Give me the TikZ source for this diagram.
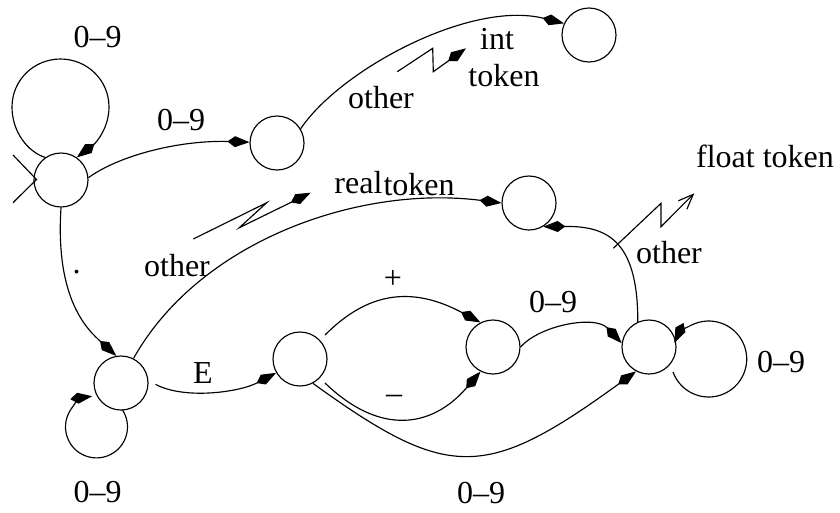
\documentclass[tikz,border=0pt]{standalone}
\usepackage{fontspec}
\setmainfont{Liberation Serif}
\usetikzlibrary{arrows.meta,calc}

\begin{document}
\begin{tikzpicture}[x=1pt,y=-1pt,line width=1.15pt,
  state/.style={circle,draw,minimum size=54pt,inner sep=0pt},
  arr/.style={-{Kite[length=22pt,width=11pt,inset=7.5pt]}},
  openarr/.style={-{Straight Barb[length=15pt,width=12pt]}},
  lbl/.style={inner sep=0pt,font=\fontsize{32}{37}\selectfont},
]
\useasboundingbox (0,0) rectangle (840,512);

% states
\node[state] (S0) at (61,180) {};
\node[state] (S1) at (277,143) {};
\node[state] (S2) at (589,35) {};
\node[state] (S3) at (529,203) {};
\node[state] (S4) at (121,383) {};
\node[state] (S5) at (300,359) {};
\node[state] (S6) at (493,347) {};
\node[state] (S7) at (649,347) {};

% start marker
\coordinate (st1) at ($(S0.center)+(-48,-25)$);
\coordinate (st2) at ($(S0.center)+(-48,22.7)$);
\draw (st1) -- ($(S0.center)+(-24.5,-0.5)$) -- (st2);

% loop on the start state
\draw[arr] (S0.125) .. controls (28,152) and (12,132) .. (12,107)
  .. controls (12,80) and (34,59) .. (60.5,59)
  .. controls (87,59) and (109,80) .. (109,107)
  .. controls (109,127) and (97,142) .. (S0.55);
\node[lbl] (l09a) at (97.5,37) {0–9};

% integer branch
\draw[arr] (S0.5) .. controls (120,155) and (180,140) .. (S1);
\node[lbl] (l09b) at (181,120) {0–9};
\draw[arr] (S1.31) .. controls (340,70) and (470,0) .. (S2.155);
\draw[arr] (397.3,71.7) -- (432.7,48.3) -- (433.3,71.7) -- (466,48.3);
\node[lbl] (loth1) at (381,98) {other};
\node[lbl] (lint) at (497,39) {int};
\node[lbl] (ltok1) at (504,76) {token};

% decimal point
\draw[arr] (S0.south) .. controls (55,300) and (88,330) .. (S4.100);
\node[lbl] (ldot) at (76.7,272) {.};

% loop on the fraction state
\draw[arr] ($(S4.center)+(1.5,27)$) arc[start angle=-33,end angle=262,radius=31];
\node[lbl] (l09f) at (97.5,492) {0–9};

% real token
\draw[arr] (S4.63) .. controls (200,240) and (360,185) .. (S3.west);
\draw[arr] (193.3,239) -- (266.7,202.7) -- (239.3,227.7) -- (310.7,192.7);
\node[lbl] (loth2) at (177,266) {other};
\node[lbl,anchor=east] (lreal) at (383,182.5) {real};
\node[lbl,anchor=west] (ltok2) at (lreal.east |- 0,185) {token};

% exponent
\draw[arr,shorten <=8pt] (S4.5) .. controls (185,400) and (240,392) .. (S5.210);
\node[lbl] (lE) at (203,373) {E};
\draw[arr] ($(S5.center)+(25,-24)$) .. controls (360,300) and (403,281) .. (S6.117);
\node[lbl] (lplus) at (393,279) {+};
\draw[arr] ($(S5.center)+(25,24)$) .. controls (380,436) and (432,428) .. (S6.-117);
\node[lbl] (lminus) at (394,399) {–};
\draw[arr] (S5.-62) .. controls (448,481) and (485,481) .. (S7.-118);
\node[lbl] (l09d) at (481,493) {0–9};
\draw[arr] (S6.0) .. controls (540,325) and (595,315) .. (S7.172);
\node[lbl] (l09c) at (553,302) {0–9};

% loop on the exponent digits
\draw[arr] ($(S7.center)+(24,25)$) arc[start angle=160,end angle=-155,radius=38];
\node[lbl] (l09e) at (781,362) {0–9};

% float token
\draw[arr] (S7.114) .. controls (638,238) and (605,226) .. (S3.-59);
\draw[openarr] (613.3,248.3) -- (661,203.3) -- (661,226.7) -- (694.3,193.3);
\node[lbl] (loth3) at (669,253) {other};
\node[lbl] (lfloat) at (765,156) {float token};
\end{tikzpicture}
\end{document}
